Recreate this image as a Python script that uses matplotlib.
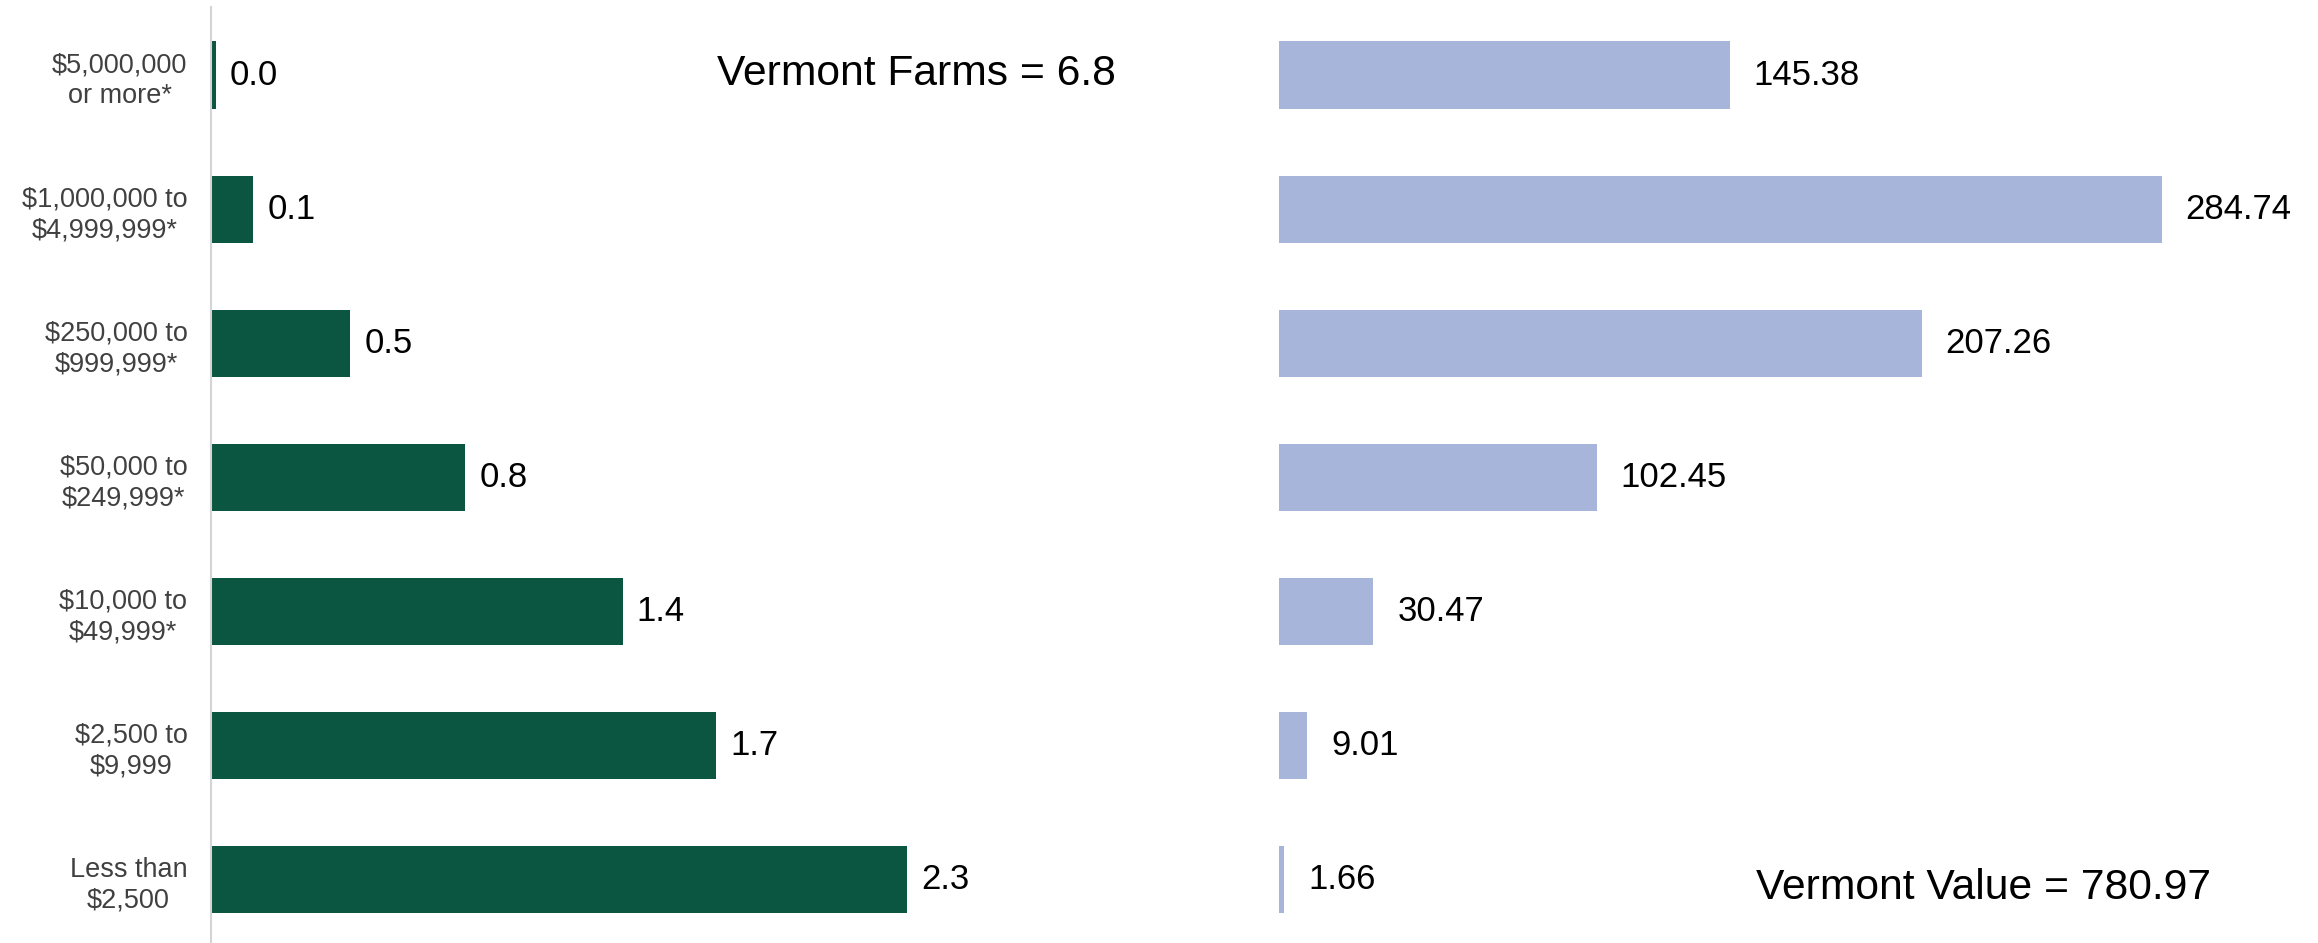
import numpy as np
import matplotlib.pyplot as plt

plt.rcParams['font.family'] = ['Liberation Sans', 'DejaVu Sans']

# sales classes, top to bottom
categories = ['$5,000,000\nor more*', '$1,000,000 to\n$4,999,999*', '$250,000 to\n$999,999*',
              '$50,000 to\n$249,999*', '$10,000 to\n$49,999*', '$2,500 to\n$9,999',
              'Less than\n$2,500']
# number of farms (thousands)
farms = [0.016, 0.14, 0.46, 0.84, 1.36, 1.67, 2.30]
# value of sales (millions of dollars)
value = [145.38, 284.74, 207.26, 102.45, 30.47, 9.01, 1.66]

farms_total = 6.8
value_total = 780.97

green = '#0b5640'
blue = '#a7b5da'

W, H = 2318, 943
fig = plt.figure(figsize=(W / 100, H / 100), dpi=100)

# left panel: farms
ax1 = fig.add_axes([211 / W, 0, (1200 - 211) / W, (H - 7) / H])
y = np.arange(len(categories))
ax1.barh(y, farms, height=0.5, color=green)
ax1.set_xlim(0, (1200 - 211) / 302.6)
ax1.set_ylim(6.47, -0.507)
for yi, v in zip(y, farms):
    ax1.text(v + 14 / 302.6, yi, f'{v:.1f}', va='center', ha='left', fontsize=25, color='black')
ax1.set_yticks(y)
ax1.set_yticklabels(categories, fontsize=19.5, color='#404040', multialignment='center',
                    linespacing=1.25)
ax1.tick_params(axis='y', length=0, pad=17)
ax1.set_xticks([])
for s in ['top', 'right', 'bottom']:
    ax1.spines[s].set_visible(False)
ax1.spines['left'].set_color('#d4d4d4')
ax1.spines['left'].set_linewidth(1.5)
ax1.text(916 / W, 1 - 74 / H, f'Vermont Farms = {farms_total}', transform=fig.transFigure,
         ha='center', va='center', fontsize=30.7, color='black')

# right panel: value of sales
ax2 = fig.add_axes([1279 / W, 0, (W - 1279) / W, (H - 7) / H])
ax2.barh(y, value, height=0.5, color=blue)
ax2.set_xlim(0, (W - 1279) / 3.10)
ax2.set_ylim(6.47, -0.507)
for yi, v in zip(y, value):
    ax2.text(v + 24 / 3.10, yi, f'{v:.2f}', va='center', ha='left', fontsize=25, color='black')
ax2.set_xticks([])
ax2.set_yticks([])
for s in ax2.spines.values():
    s.set_visible(False)
ax2.text(1984 / W, 1 - 888 / H, f'Vermont Value = {value_total}', transform=fig.transFigure,
         ha='center', va='center', fontsize=30.7, color='black')

fig.savefig('out.png', dpi=100, facecolor='white')
